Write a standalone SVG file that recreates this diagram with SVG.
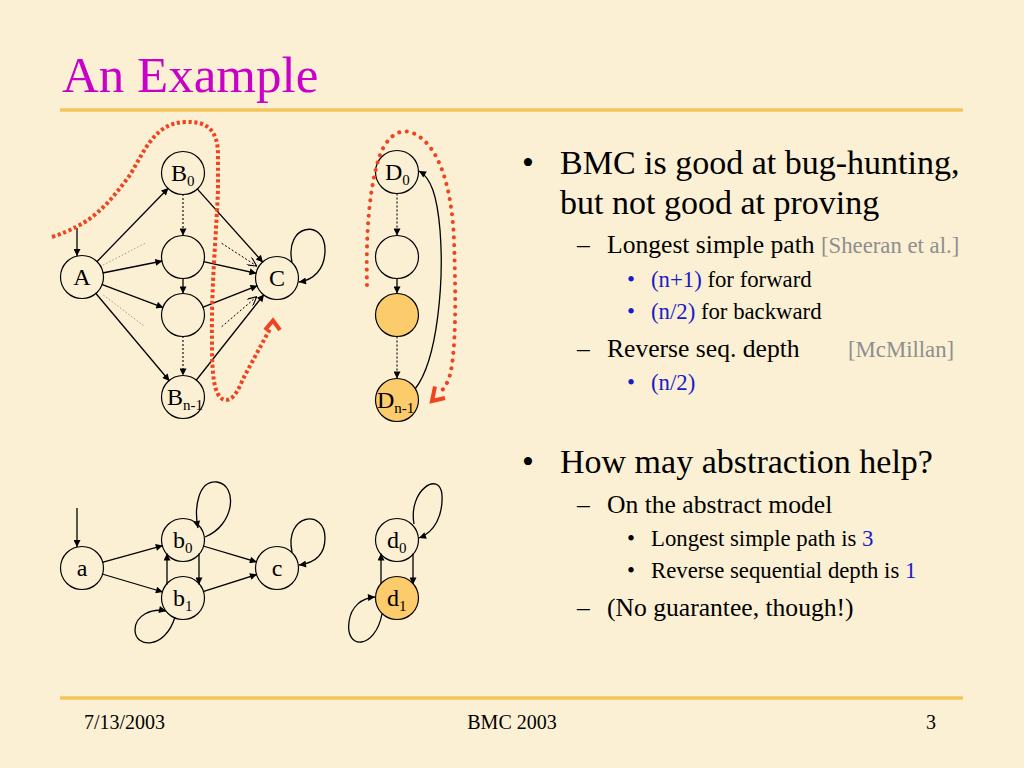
<svg xmlns="http://www.w3.org/2000/svg" width="1024" height="768" viewBox="0 0 1024 768">
<defs>
<marker id="ah" viewBox="0 0 10 10" refX="10" refY="5" markerWidth="9" markerHeight="7" markerUnits="userSpaceOnUse" orient="auto">
<path d="M0,0 L10,5 L0,10 z" fill="#000"/>
</marker>
<marker id="oh" viewBox="0 0 10 10" refX="10" refY="5" markerWidth="10" markerHeight="9" markerUnits="userSpaceOnUse" orient="auto">
<path d="M0,0 L10,5 L0,10" fill="none" stroke="#000" stroke-width="1.2"/>
</marker>
</defs>
<style>
.bg{fill:#FBF0D4}
.rule{stroke:#F5C55C;stroke-width:3.5}
.node{fill:none;stroke:#000;stroke-width:1.2}
.hot{fill:#FBCB6C;stroke:#000;stroke-width:1.2}
.lbl{font-family:"Liberation Serif","Times New Roman",serif;font-size:24px;fill:#000}
.sub{font-size:15px}
.e{fill:none;stroke:#000;stroke-width:1.3;marker-end:url(#ah)}
.d{fill:none;stroke:#000;stroke-width:1.1;stroke-dasharray:2 2;marker-end:url(#ah)}
.do{fill:none;stroke:#000;stroke-width:1;stroke-dasharray:2 2;marker-end:url(#oh)}
.faint{fill:none;stroke:#A09A8A;stroke-width:1;stroke-dasharray:1.5 2}
.red{fill:none;stroke:#F0431F;stroke-width:4;stroke-dasharray:3.2 2.6}
.redr{fill:none;stroke:#F0431F;stroke-width:4;stroke-linecap:round;stroke-dasharray:0.1 7.6}
.chev{fill:none;stroke:#F0431F;stroke-width:4;stroke-linejoin:miter}
.t{font-family:"Liberation Serif","Times New Roman",serif;fill:#000}
.l1{font-size:34px}
.l2{font-size:25.6px}
.l3{font-size:22.75px}
.blue{fill:#1A1AC8}
.gray{fill:#8E8E8E}
.title{font-family:"Liberation Serif","Times New Roman",serif;font-size:51px;fill:#C800C8}
.foot{font-family:"Liberation Serif","Times New Roman",serif;font-size:20px;fill:#000}
</style>
<rect class="bg" x="0" y="0" width="1024" height="768"/>
<text class="title" x="62" y="92">An Example</text>
<line class="rule" x1="60" y1="110" x2="963" y2="110"/>
<line class="rule" x1="60" y1="698" x2="963" y2="698"/>

<g id="connectors">
<line class="e" x1="77" y1="228" x2="77" y2="256"/>
<line class="e" x1="96.6" y1="262" x2="168.4" y2="188"/>
<line class="e" x1="102.6" y1="273" x2="162.4" y2="261"/>
<line class="e" x1="101.7" y1="284.4" x2="163.3" y2="307.6"/>
<line class="e" x1="95.5" y1="293" x2="169.5" y2="381"/>
<line class="faint" x1="100" y1="266.7" x2="145" y2="243.3"/>
<line class="faint" x1="103.3" y1="295" x2="145" y2="326.7"/>
<line class="d" x1="183" y1="194" x2="183" y2="235.5"/>
<line class="e" x1="183" y1="278" x2="183" y2="293.5"/>
<line class="d" x1="183" y1="336" x2="183" y2="375.5"/>
<line class="e" x1="197" y1="188.6" x2="263" y2="262.4"/>
<line class="e" x1="203.5" y1="261.6" x2="256.5" y2="273.4"/>
<line class="e" x1="202.5" y1="307.3" x2="257.5" y2="285.7"/>
<line class="e" x1="196" y1="380.5" x2="264" y2="294.5"/>
<line class="do" x1="221.7" y1="243.3" x2="256.7" y2="266"/>
<line class="do" x1="221.7" y1="326.7" x2="256.7" y2="296.7"/>
<path class="e" d="M292,262 C284,224 325,218 325,250 C325,270 313,280 299,282"/>

<line class="d" x1="397" y1="193.5" x2="397" y2="235.5"/>
<line class="e" x1="397" y1="278.5" x2="397" y2="293.5"/>
<line class="d" x1="397" y1="336.5" x2="397" y2="378.5"/>
<path class="e" d="M415,389 C438,360 444,280 440,230 C437,195 431,178 419,171"/>

<line class="e" x1="77" y1="508" x2="77" y2="547"/>
<line class="e" x1="102.2" y1="562.4" x2="162.8" y2="545.6"/>
<line class="e" x1="102.1" y1="574" x2="162.9" y2="592"/>
<line class="e" x1="203.1" y1="546" x2="256.9" y2="562"/>
<line class="e" x1="203" y1="591.6" x2="257" y2="574.4"/>
<line class="e" x1="199" y1="553.6" x2="199" y2="584.4"/>
<line class="e" x1="167" y1="584.4" x2="167" y2="553.6"/>
<path class="e" d="M205,537 C235,525 238,485 217,482 C198,480 194,508 198,528"/>
<path class="e" d="M292,552 C284,514 325,508 325,538 C325,555 314,563 299,565"/>
<path class="e" d="M175,617 C165,650 135,648 135,630 C135,615 152,608 166,611"/>
<line class="e" x1="413" y1="553.6" x2="413" y2="584.4"/>
<line class="e" x1="381" y1="584.4" x2="381" y2="553.6"/>
<path class="e" d="M414,524 C408,490 440,470 442,495 C443,515 435,532 419,538"/>
<path class="e" d="M382,614 C375,650 345,650 349,622 C351,606 362,598 375,597"/>
</g>

<g id="node-A"><circle class="node" cx="82" cy="277" r="21.5"/><text class="lbl" x="82" y="285" text-anchor="middle">A</text></g>
<g id="node-B0"><circle class="node" cx="183" cy="173" r="21.5"/><text class="lbl" x="171" y="181">B<tspan class="sub" dy="5">0</tspan></text></g>
<g id="node-M1"><circle class="node" cx="183" cy="257" r="21.5"/></g>
<g id="node-M2"><circle class="node" cx="183" cy="315" r="21.5"/></g>
<g id="node-Bn1"><circle class="node" cx="183" cy="397" r="21.5"/><text class="lbl" x="167" y="405">B<tspan class="sub" dy="5">n-1</tspan></text></g>
<g id="node-C"><circle class="node" cx="277" cy="278" r="21.5"/><text class="lbl" x="277" y="286" text-anchor="middle">C</text></g>

<g id="node-D0"><circle class="node" cx="397" cy="172" r="21.5"/><text class="lbl" x="385" y="180">D<tspan class="sub" dy="5">0</tspan></text></g>
<g id="node-D1"><circle class="node" cx="397" cy="257" r="21.5"/></g>
<g id="node-D2"><circle class="hot" cx="397" cy="315" r="21.5"/></g>
<g id="node-Dn1"><circle class="hot" cx="397" cy="400" r="21.5"/><text class="lbl" x="377" y="408">D<tspan class="sub" dy="5">n-1</tspan></text></g>

<g id="node-a"><circle class="node" cx="82" cy="568" r="21.5"/><text class="lbl" x="82" y="576" text-anchor="middle">a</text></g>
<g id="node-b0"><circle class="node" cx="183" cy="540" r="21.5"/><text class="lbl" x="173" y="548">b<tspan class="sub" dy="5">0</tspan></text></g>
<g id="node-b1"><circle class="node" cx="183" cy="598" r="21.5"/><text class="lbl" x="173" y="606">b<tspan class="sub" dy="5">1</tspan></text></g>
<g id="node-c"><circle class="node" cx="277" cy="568" r="21.5"/><text class="lbl" x="277" y="576" text-anchor="middle">c</text></g>
<g id="node-d0"><circle class="node" cx="397" cy="540" r="21.5"/><text class="lbl" x="387" y="548">d<tspan class="sub" dy="5">0</tspan></text></g>
<g id="node-d1"><circle class="hot" cx="397" cy="598" r="21.5"/><text class="lbl" x="387" y="606">d<tspan class="sub" dy="5">1</tspan></text></g>

<g id="red-paths">
<path class="red" d="M52,237 C62,234 70,230 76,227 C100,215 115,195 130,175 C145,150 155,123 185,122 C205,121 218,128 218,155 L218,190 C216,240 211,290 212,343 C212,370 213,398 225,400 C235,401 240,385 245,375 L270,329"/>
<polyline class="chev" points="265,330 273,320.5 280,330"/>
<path class="redr" d="M367,285 C366,240 368,190 380,155 C388,135 400,128 413,133 C440,145 452,190 454,240 C456,300 456,350 450,375 C447,385 443,390 440,392"/>
<polyline class="chev" points="435,386.5 432,401 445,398"/>
</g>

<g id="text">
<text class="t l1" x="522" y="174">•</text>
<text class="t l1" x="560" y="174">BMC is good at bug-hunting,</text>
<text class="t l1" x="560" y="214">but not good at proving</text>
<text class="t l2" x="577" y="253">–</text>
<text class="t l2" x="607" y="253">Longest simple path <tspan class="l3 gray">[Sheeran et al.]</tspan></text>
<text class="t l3 blue" x="627" y="287">•</text>
<text class="t l3" x="651" y="287"><tspan class="blue">(n+1)</tspan> for forward</text>
<text class="t l3 blue" x="627" y="319">•</text>
<text class="t l3" x="651" y="319"><tspan class="blue">(n/2)</tspan> for backward</text>
<text class="t l2" x="577" y="357">–</text>
<text class="t l2" x="607" y="357">Reverse seq. depth</text>
<text class="t l3 gray" x="848" y="357">[McMillan]</text>
<text class="t l3 blue" x="627" y="390">•</text>
<text class="t l3 blue" x="651" y="390">(n/2)</text>

<text class="t l1" x="522" y="473">•</text>
<text class="t l1" x="560" y="473">How may abstraction help?</text>
<text class="t l2" x="577" y="513">–</text>
<text class="t l2" x="607" y="513">On the abstract model</text>
<text class="t l3" x="627" y="546">•</text>
<text class="t l3" x="651" y="546">Longest simple path is <tspan class="blue">3</tspan></text>
<text class="t l3" x="627" y="578">•</text>
<text class="t l3" x="651" y="578">Reverse sequential depth is <tspan class="blue">1</tspan></text>
<text class="t l2" x="577" y="616">–</text>
<text class="t l2" x="607" y="616">(No guarantee, though!)</text>
</g>

<text class="foot" x="84" y="729">7/13/2003</text>
<text class="foot" x="512" y="729" text-anchor="middle">BMC 2003</text>
<text class="foot" x="936" y="729" text-anchor="end">3</text>
</svg>
